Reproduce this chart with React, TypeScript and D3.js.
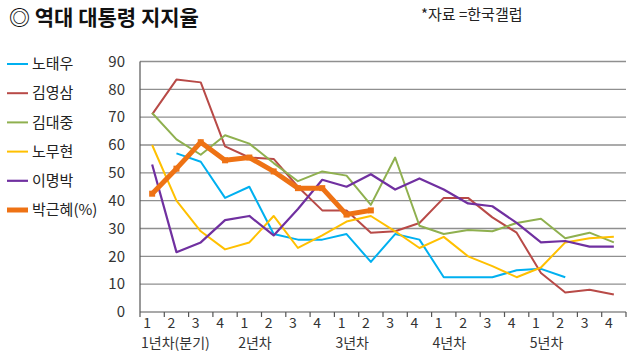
import React from "react";
import * as d3 from "d3";

const quarters = ["1","2","3","4","1","2","3","4","1","2","3","4","1","2","3","4","1","2","3","4"];
const years = ["1년차(분기)", "2년차", "3년차", "4년차", "5년차"];
const yTicks = [0, 10, 20, 30, 40, 50, 60, 70, 80, 90];

const rohTaewoo = [null, 57, 54, 41, 45, 28, 26, 26, 28, 18, 28, 26, 12.5, 12.5, 12.5, 15, 15.5, 12.5, null, null];
const kimYoungsam = [71, 83.5, 82.5, 59.5, 55.5, 55, 45, 36.5, 36.5, 28.5, 29, 32, 41, 41, 34, 28.5, 14, 7, 8, 6.3];
const kimDaejung = [71.5, 62, 56.5, 63.5, 60.5, 53.5, 47, 50.5, 49, 38.5, 55.5, 31, 28, 29.5, 29, 32, 33.5, 26.5, 28.5, 25];
const rohMoohyun = [60, 40, 29, 22.5, 25, 34.5, 23, 27.5, 32.5, 34.5, 29, 23, 27, 20, 16.5, 12.5, 16, 25, 26.5, 27];
const leeMyungbak = [53, 21.5, 25, 33, 34.5, 27.5, 37, 47.5, 45, 49.5, 44, 48, 44, 39, 38, 32, 25, 25.5, 23.5, 23.5];
const parkGeunhye = [42.5, 51.5, 61, 54.5, 55.5, 50.5, 44.5, 44.5, 35, 36.5];

const seriesNames = ["노태우", "김영삼", "김대중", "노무현", "이명박", "박근혜(%)"];
const seriesData = [rohTaewoo, kimYoungsam, kimDaejung, rohMoohyun, leeMyungbak, parkGeunhye];
const seriesColors = ["#00B0F0", "#B84A47", "#8FB04F", "#FFC000", "#7030A0", "#EE7214"];
const seriesWidths = [2, 2, 2, 2, 2.2, 5];

const FONT = "'Noto Sans CJK KR', 'Noto Sans', sans-serif";

export default function App() {
  const W = 630, H = 359;
  const left = 140, right = 626, top = 61.5, bottom = 312;
  const x = d3.scaleBand<number>().domain(d3.range(quarters.length)).range([left, right]).padding(0);
  const y = d3.scaleLinear().domain([0, 90]).range([bottom, top]);
  const cx = (i: number) => (x(i) as number) + x.bandwidth() / 2;
  const line = d3.line<number | null>()
    .defined((d) => d !== null)
    .x((_, i) => cx(i))
    .y((d) => y(d as number));

  return (
    <svg width={W} height={H} style={{ position: "absolute", left: 0, top: 0, background: "#fff" }} fontFamily={FONT}>
      <rect width={W} height={H} fill="#fff" />
      <text x={9} y={25} fontSize={21} fontWeight={700} fill="#111">◎ 역대 대통령 지지율</text>
      <text x={421} y={20} fontSize={15} fill="#222">*자료 =한국갤럽</text>

      {yTicks.slice(1).map((t) => (
        <line key={"g" + t} x1={left} x2={right} y1={y(t)} y2={y(t)} stroke="#8f8f8f" strokeWidth={1.3} />
      ))}
      {yTicks.map((t) => (
        <text key={"yl" + t} x={125} y={y(t)} dy="0.35em" textAnchor="end" fontSize={15} fill="#333">{t}</text>
      ))}
      <line x1={left} x2={left} y1={top} y2={bottom} stroke="#555" strokeWidth={1.2} />
      <line x1={left} x2={right} y1={bottom} y2={bottom} stroke="#555" strokeWidth={1.2} />
      {d3.range(quarters.length + 1).map((i) => {
        const tx = left + i * x.bandwidth();
        return <line key={"t" + i} x1={tx} x2={tx} y1={bottom} y2={bottom + 5} stroke="#555" strokeWidth={1.2} />;
      })}
      {quarters.map((q, i) => (
        <text key={"q" + i} x={cx(i) - 5} y={327.5} textAnchor="middle" fontSize={14} fill="#333">{q}</text>
      ))}
      {years.map((yl, k) => (
        <text key={"y" + k} x={left + k * 4 * x.bandwidth() + 1} y={348} fontSize={14} fill="#333">{yl}</text>
      ))}

      {seriesData.map((s, k) => (
        <path key={"s" + k} d={line(s) || ""} fill="none" stroke={seriesColors[k]} strokeWidth={seriesWidths[k]} strokeLinejoin="round" />
      ))}
      {parkGeunhye.map((v, i) => (
        <rect key={"m" + i} x={cx(i) - 3} y={y(v) - 3} width={6} height={6} fill={seriesColors[5]} />
      ))}

      {seriesNames.map((n, k) => {
        const ly = 64 + k * 29.2;
        return (
          <g key={"l" + k}>
            <line x1={7} x2={28} y1={ly} y2={ly} stroke={seriesColors[k]} strokeWidth={seriesWidths[k]} />
            <text x={32} y={ly} dy="0.35em" fontSize={15} fill="#222">{n}</text>
          </g>
        );
      })}
    </svg>
  );
}
